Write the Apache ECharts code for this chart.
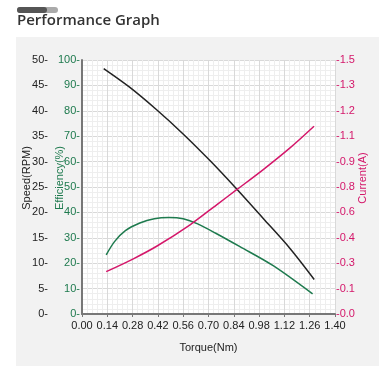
<!DOCTYPE html>
<html><head><meta charset="utf-8">
<script src="https://cdn.jsdelivr.net/npm/echarts@6/dist/echarts.min.js"></script>
<style>html,body{margin:0;padding:0;background:#fff}#c{width:392px;height:382px}</style>
</head><body><div id="c"></div>
<script>
// Data
const speedData = [[0.12,48.3],[0.265,44.6],[0.413,40.2],[0.561,35.4],[0.708,30.2],[0.856,24.6],[1.003,18.8],[1.151,12.9],[1.285,6.8]];
const efficiencyData = [[0.134,23.3],[0.18,28.5],[0.24,32.8],[0.32,35.8],[0.40,37.5],[0.48,38.0],[0.56,37.5],[0.64,35.5],[0.74,31.8],[0.874,26.5],[1.058,19.0],[1.276,7.9]];
const currentData = [[0.134,0.25],[0.284,0.326],[0.413,0.40],[0.598,0.527],[0.745,0.645],[0.856,0.734],[1.003,0.853],[1.151,0.981],[1.284,1.109]];
const xTickLabels = ['0.00','0.14','0.28','0.42','0.56','0.70','0.84','0.98','1.12','1.26','1.40'];
const currentTickLabels = ['-0.0','-0.1','-0.3','-0.4','-0.6','-0.8','-0.9','-1.1','-1.2','-1.3','-1.5'];

const chart = echarts.init(document.getElementById('c'), null, {renderer:'canvas'});
const font = 'Liberation Sans, Arial, sans-serif';
chart.setOption({
  animation:false,
  backgroundColor:'#fff',
  title:{text:'Performance Graph', left:17, top:13, padding:0, textStyle:{fontFamily:'Open Sans', fontSize:15, fontWeight:600, color:'#333'}},
  graphic:[
    {type:'rect', shape:{x:16,y:37,width:363,height:329}, style:{fill:'#f2f2f2'}, z:-10},
    {type:'rect', shape:{x:17,y:7,width:41,height:6,r:3}, style:{fill:'#aaaaaa'}, z:-5},
    {type:'rect', shape:{x:17,y:7,width:30,height:6,r:3}, style:{fill:'#555555'}, z:-4}
  ],
  grid:{left:82, right:57, top:60, bottom:68, show:true, backgroundColor:'#fff', borderWidth:0},
  xAxis:{type:'value', min:0, max:1.4, interval:0.14,
    name:'Torque(Nm)', nameLocation:'middle', nameGap:28, nameMoveOverlap:false,
    nameTextStyle:{fontFamily:font, fontSize:11, color:'#222'},
    axisLine:{show:true, lineStyle:{color:'#777', width:2}},
    axisTick:{show:true, length:3, lineStyle:{color:'#777'}},
    axisLabel:{fontFamily:font, fontSize:11, color:'#222', margin:6,
      formatter:(v)=>xTickLabels[Math.round(v/0.14)]},
    splitLine:{show:true, lineStyle:{color:'#d9d9d9', width:1}},
    minorTick:{show:false, splitNumber:5},
    minorSplitLine:{show:true, lineStyle:{color:'#eeeeee', width:1}}
  },
  yAxis:[
    {type:'value', min:0, max:100, interval:10, position:'left',
      name:'Efficiency(%)', nameLocation:'middle', nameGap:17, nameMoveOverlap:false,
      nameTextStyle:{fontFamily:font, fontSize:11, color:'#1e7a4e', padding:[0,0,0,18]},
      axisLine:{show:true, lineStyle:{color:'#777', width:2}},
      axisTick:{show:false},
      axisLabel:{fontFamily:font, fontSize:11, color:'#1e7a4e', margin:2, formatter:(v)=>v+'-'},
      splitLine:{show:true, lineStyle:{color:'#d9d9d9', width:1}},
      minorTick:{show:false, splitNumber:5},
      minorSplitLine:{show:true, lineStyle:{color:'#eeeeee', width:1}}
    },
    {type:'value', min:0, max:50, interval:5, position:'left', offset:32,
      name:'Speed(RPM)', nameLocation:'middle', nameGap:18, nameMoveOverlap:false,
      nameTextStyle:{fontFamily:font, fontSize:11, color:'#222', padding:[0,0,0,18]},
      axisLine:{show:false}, axisTick:{show:false},
      axisLabel:{fontFamily:font, fontSize:11, color:'#222', margin:2, formatter:(v)=>v+'-'},
      splitLine:{show:false}
    },
    {type:'value', min:0, max:1.5, interval:0.15, position:'right',
      name:'Current(A)', nameLocation:'middle', nameGap:22, nameMoveOverlap:false,
      nameTextStyle:{fontFamily:font, fontSize:11, color:'#d4176a', padding:[0,0,0,18]},
      axisLine:{show:false}, axisTick:{show:false},
      axisLabel:{fontFamily:font, fontSize:11, color:'#d4176a', margin:1,
        formatter:(v)=>currentTickLabels[Math.round(v/0.15)]},
      splitLine:{show:false}
    }
  ],
  series:[
    {type:'line', name:'Speed', yAxisIndex:1, data:speedData, smooth:0.3, showSymbol:false, lineStyle:{color:'#222', width:1.5}},
    {type:'line', name:'Efficiency', yAxisIndex:0, data:efficiencyData, smooth:0.3, showSymbol:false, lineStyle:{color:'#1e7a4e', width:1.5}},
    {type:'line', name:'Current', yAxisIndex:2, data:currentData, smooth:0.3, showSymbol:false, lineStyle:{color:'#d4176a', width:1.5}}
  ]
});
</script></body></html>
